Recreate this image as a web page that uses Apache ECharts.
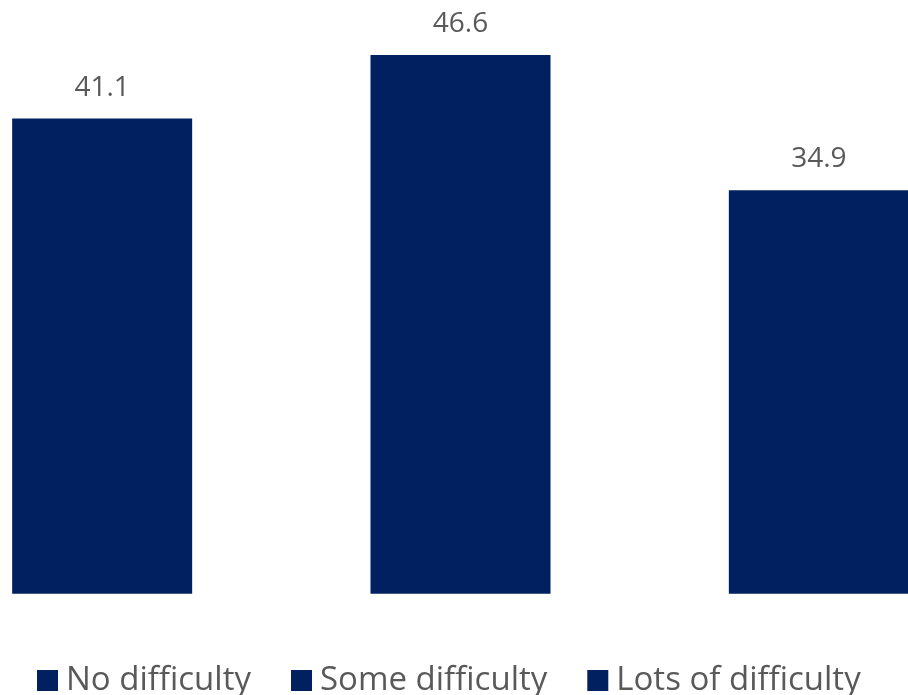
<!DOCTYPE html>
<html>
<head>
<meta charset="utf-8">
<script src="https://cdn.jsdelivr.net/npm/echarts@6/dist/echarts.min.js"></script>
<style>
  html, body { margin: 0; padding: 0; background: #fff; }
  #chart { width: 908px; height: 695px; }
</style>
</head>
<body>
<div id="chart"></div>
<script>
// Difficulty groups and their values
const categories = ['No difficulty', 'Some difficulty', 'Lots of difficulty'];
const values = [41.1, 46.6, 34.9];

const barColor = '#002060';
const textColor = '#595959';
const fontFamily = '"Open Sans", "Noto Sans", sans-serif';

// One series per group so each gets its own legend entry;
// a shared stack keeps every bar centred in its own slot.
const series = categories.map((name, i) => ({
  name: name,
  type: 'bar',
  stack: 'groups',
  barWidth: 180,
  itemStyle: { color: barColor },
  label: {
    show: true,
    position: 'top',
    distance: 17,
    color: textColor,
    fontFamily: fontFamily,
    fontSize: 28,
    formatter: p => p.value.toFixed(1)
  },
  data: categories.map((_, j) => (j === i ? values[i] : '-'))
}));

const chart = echarts.init(document.getElementById('chart'));
chart.setOption({
  animation: false,
  grid: {
    left: -77, right: -90, top: 15.7, bottom: 101.3,
    outerBoundsMode: 'none', containLabel: false
  },
  xAxis: {
    type: 'category',
    data: categories,
    show: false
  },
  yAxis: {
    type: 'value',
    min: 0,
    max: 50,
    show: false
  },
  legend: {
    bottom: -7,
    left: 32,
    icon: 'rect',
    itemWidth: 21,
    itemHeight: 21,
    itemGap: 40,
    textStyle: {
      color: textColor, fontFamily: fontFamily, fontSize: 33,
      padding: [0, 0, 0, 3]
    },
    data: categories
  },
  series: series
});
</script>
</body>
</html>
